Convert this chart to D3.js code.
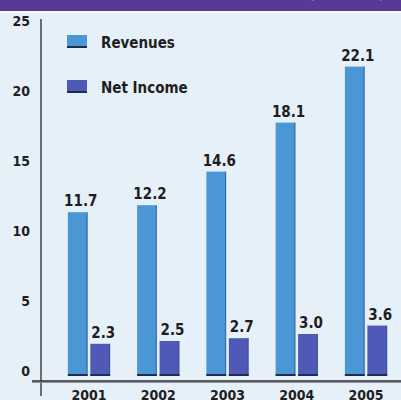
<!DOCTYPE html>
<html>
<head>
<meta charset="utf-8">
<script src="https://cdn.jsdelivr.net/npm/d3@7"></script>
<style>
  html, body { margin: 0; padding: 0; background: #e6f0f8; }
  svg { display: block; }
  text { font-family: "DejaVu Sans Condensed", "DejaVu Sans", sans-serif; font-stretch: condensed; font-weight: bold; fill: #1e1e22; }
</style>
</head>
<body>
<script>
// Revenues and net income by year (billions)
const years = ["2001", "2002", "2003", "2004", "2005"];
const revenues = [11.7, 12.2, 14.6, 18.1, 22.1];
const netIncome = [2.3, 2.5, 2.7, 3.0, 3.6];
const seriesNames = ["Revenues", "Net Income"];
const seriesColors = ["#4b97d5", "#5059b8"];
const yTicks = [0, 5, 10, 15, 20, 25];

const W = 401, H = 400;
const svg = d3.select("body").append("svg").attr("width", W).attr("height", H);

svg.append("rect").attr("width", W).attr("height", H).attr("fill", "#e6f0f8");

// header band
svg.append("rect").attr("x", 0).attr("y", 0).attr("width", W).attr("height", 11).attr("fill", "#5a3996");
svg.append("rect").attr("x", 0).attr("y", 11).attr("width", W).attr("height", 2).attr("fill", "#f2f8fc");
svg.append("text").attr("x", 384).attr("y", -1).attr("text-anchor", "end")
  .style("fill", "#ffffff").style("font-size", "13px").text("(in billions)");

const rows = years.map((y, i) => ({ year: y, values: [revenues[i], netIncome[i]] }));

const x0 = d3.scaleBand().domain(years).range([54, 401]).paddingInner(0.39).paddingOuter(0.2);
const x1 = d3.scaleBand().domain(seriesNames).range([0, x0.bandwidth()]).paddingInner(0.12);
const y = d3.scaleLinear().domain([0, 25]).range([376, 26]);

// y axis labels
const yAxis = svg.append("g").attr("transform", "translate(41,0)")
  .call(d3.axisLeft(y).tickValues(yTicks).tickSize(0).tickPadding(11));
yAxis.select(".domain").remove();
yAxis.selectAll("text").attr("dy", "-0.05em").style("font-size", "14px")
  .style("font-family", null).attr("fill", null);

// bars
const groups = svg.selectAll("g.grp").data(rows).enter().append("g")
  .attr("class", "grp").attr("transform", d => `translate(${x0(d.year)},0)`);

groups.selectAll("rect.bar").data(d => d.values.map((v, k) => ({ k, v })))
  .enter().append("rect").attr("class", "bar")
  .attr("x", d => x1(seriesNames[d.k]))
  .attr("y", d => y(d.v))
  .attr("width", x1.bandwidth())
  .attr("height", d => y(0) - y(d.v))
  .attr("fill", d => seriesColors[d.k]);

// darker right edge on each bar
groups.selectAll("rect.edge").data(d => d.values.map((v, k) => ({ k, v })))
  .enter().append("rect").attr("class", "edge")
  .attr("x", d => x1(seriesNames[d.k]) + x1.bandwidth() - 1.2)
  .attr("y", d => y(d.v))
  .attr("width", 1.2)
  .attr("height", d => y(0) - y(d.v))
  .attr("fill", "#2c4d7e").attr("opacity", 0.55);

// dark foot on each bar
groups.selectAll("rect.foot").data(d => d.values.map((v, k) => ({ k, v })))
  .enter().append("rect").attr("class", "foot")
  .attr("x", d => x1(seriesNames[d.k]))
  .attr("y", y(0) - 2)
  .attr("width", x1.bandwidth())
  .attr("height", 2)
  .attr("fill", "#1f2d4c");

// value labels
groups.selectAll("text.val").data(d => d.values.map((v, k) => ({ k, v })))
  .enter().append("text").attr("class", "val")
  .attr("x", d => x1(seriesNames[d.k]) + x1.bandwidth() / 2 + 3)
  .attr("y", d => y(d.v) - 6)
  .attr("text-anchor", "middle")
  .style("font-size", "15px")
  .text(d => d.v.toFixed(1));

// axis lines
svg.append("line").attr("x1", 41).attr("x2", 41).attr("y1", 19).attr("y2", 396)
  .attr("stroke", "#2a2a2e").attr("stroke-width", 1.3);
svg.append("line").attr("x1", 32).attr("x2", W).attr("y1", 381).attr("y2", 381)
  .attr("stroke", "#2a2a2e").attr("stroke-width", 1.5);
svg.append("line").attr("x1", 32).attr("x2", W).attr("y1", 382.5).attr("y2", 382.5)
  .attr("stroke", "#8a8f98").attr("stroke-width", 1);

// x axis labels
const xAxis = svg.append("g").attr("transform", "translate(0,381)")
  .call(d3.axisBottom(x0).tickSize(0).tickPadding(6));
xAxis.select(".domain").remove();
xAxis.selectAll("text").attr("dy", "0.9em").style("font-size", "14px")
  .style("font-family", null).attr("fill", null);

// legend
const legend = svg.append("g");
const legendRows = seriesNames.map((name, i) => ({ name, color: seriesColors[i], top: [35, 80][i] }));
legend.selectAll("rect.sw").data(legendRows).enter().append("rect")
  .attr("x", 67).attr("y", d => d.top).attr("width", 20).attr("height", 13).attr("fill", d => d.color);
legend.selectAll("rect.swf").data(legendRows).enter().append("rect")
  .attr("x", 67).attr("y", d => d.top + 11).attr("width", 20).attr("height", 2).attr("fill", "#1f2d4c");
legend.selectAll("text").data(legendRows).enter().append("text")
  .attr("x", 101).attr("y", d => d.top + 12.5)
  .style("font-size", "15px")
  .text(d => d.name);
</script>
</body>
</html>
